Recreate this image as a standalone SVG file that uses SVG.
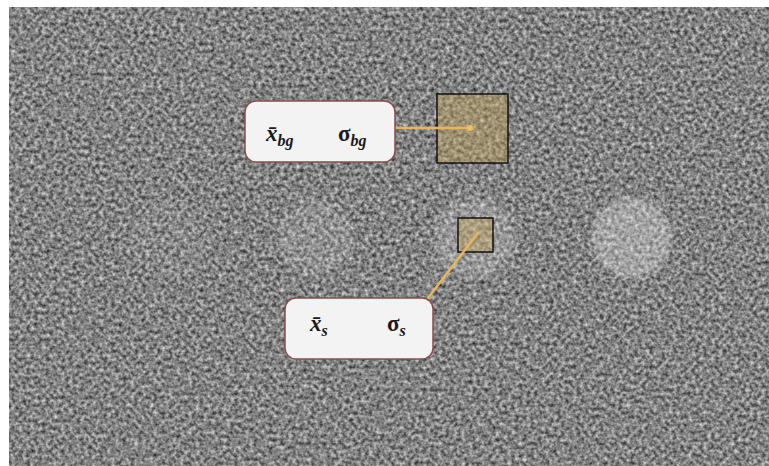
<svg xmlns="http://www.w3.org/2000/svg" width="769" height="466" viewBox="0 0 769 466">
  <defs>
    <!-- fine grey grain for the image field -->
    <filter id="grain" x="0" y="0" width="1" height="1" color-interpolation-filters="sRGB">
      <feTurbulence type="fractalNoise" baseFrequency="0.26" numOctaves="2" seed="7" result="n"/>
      <feColorMatrix in="n" type="matrix" values="0.9 0 0 0 0.06  0.9 0 0 0 0.06  0.9 0 0 0 0.06  0 0 0 0 1" result="g"/>
      <feGaussianBlur in="g" stdDeviation="0.7"/>
    </filter>
    <filter id="soft" x="-20%" y="-20%" width="140%" height="140%">
      <feGaussianBlur stdDeviation="2.5"/>
    </filter>
    <style>
      .disc { fill: #ffffff; filter: url(#soft); }
      .roi { fill: #c2a458; fill-opacity: 0.42; stroke: #111; stroke-width: 1.5; }
      .lead { stroke: #e8b55a; stroke-width: 2.5; stroke-linecap: round; fill: none; }
      .label { fill: #f3f3f3; stroke: #8a4c4c; stroke-width: 1.5; }
      .sym { font-family: "Liberation Serif", "Times New Roman", serif; font-weight: bold; font-size: 23px; fill: #1a1a1a; }
      .it { font-style: italic; }
      .sub { font-style: italic; font-size: 16px; }
    </style>
  </defs>

  <rect width="769" height="466" fill="#ffffff"/>
  <!-- noisy image field -->
  <rect x="9" y="7" width="760" height="459" fill="#808080" filter="url(#grain)"/>

  <!-- four low-contrast discs, increasing contrast left to right -->
  <g id="discs">
    <circle class="disc" cx="170" cy="238" r="40" opacity="0.05"/>
    <circle class="disc" cx="316" cy="238" r="38" opacity="0.12"/>
    <circle class="disc" cx="475" cy="238" r="40" opacity="0.19"/>
    <circle class="disc" cx="632" cy="238" r="40" opacity="0.28"/>
  </g>

  <!-- regions of interest -->
  <g id="roi-bg">
    <rect class="roi" x="437" y="94" width="71" height="69"/>
  </g>
  <g id="roi-s">
    <rect class="roi" x="458" y="218" width="35" height="34"/>
  </g>

  <!-- leader lines -->
  <g id="connectors">
    <line class="lead" x1="395" y1="128" x2="470" y2="128"/>
    <circle cx="470" cy="128" r="3" fill="#f0c060"/>
    <line class="lead" x1="428" y1="298" x2="478" y2="233"/>
  </g>

  <!-- background statistics label -->
  <g id="label-bg">
    <rect class="label" x="245" y="101" width="150" height="61" rx="11"/>
    <text class="sym" x="266" y="141"><tspan class="it">x̄</tspan><tspan class="sub" dy="5">bg</tspan></text>
    <text class="sym" x="338" y="141">σ<tspan class="sub" dy="5">bg</tspan></text>
  </g>

  <!-- signal statistics label -->
  <g id="label-s">
    <rect class="label" x="285" y="298" width="148" height="61" rx="11"/>
    <text class="sym" x="310" y="331"><tspan class="it">x̄</tspan><tspan class="sub" dy="5">s</tspan></text>
    <text class="sym" x="387" y="331">σ<tspan class="sub" dy="5">s</tspan></text>
  </g>
</svg>
